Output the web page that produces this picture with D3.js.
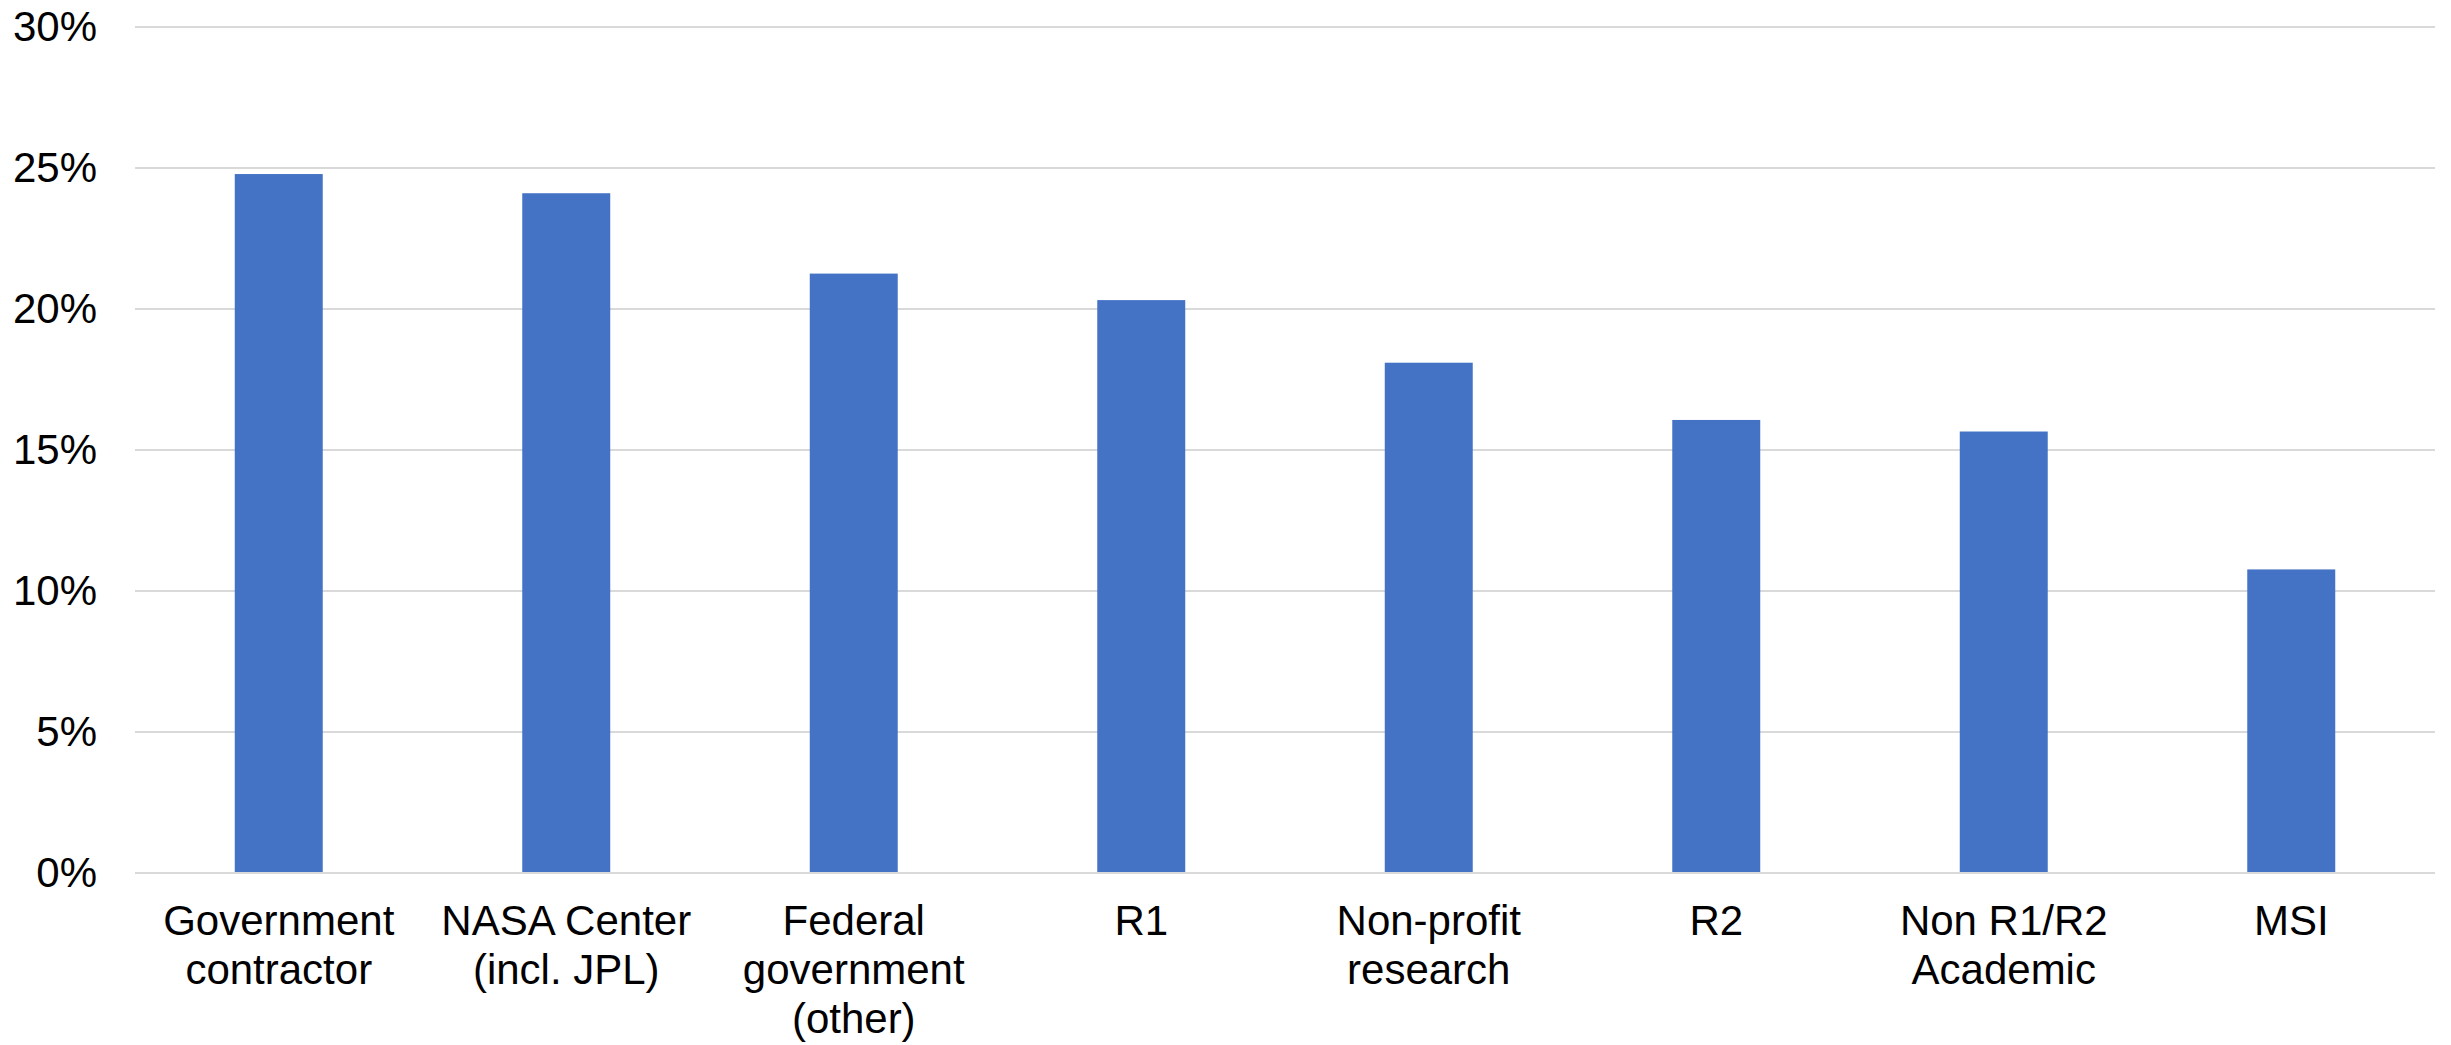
<!DOCTYPE html>
<meta charset="utf-8">
<style>
body { margin: 0; background: #fff; }
svg { font-family: "Liberation Sans", Arial, sans-serif; }
.grid line { stroke: #d9d9d9; stroke-width: 2; shape-rendering: crispEdges; }
.grid .domain { display: none; }
</style>
<body>
<script src="https://d3js.org/d3.v7.min.js"></script>
<script>
// categories as shown under each bar (line breaks kept)
var categories = [
  ["Government", "contractor"],
  ["NASA Center", "(incl. JPL)"],
  ["Federal", "government", "(other)"],
  ["R1"],
  ["Non-profit", "research"],
  ["R2"],
  ["Non R1/R2", "Academic"],
  ["MSI"]
];
var values = [24.75, 24.07, 21.22, 20.28, 18.06, 16.03, 15.62, 10.73];
var yTicks = [0, 5, 10, 15, 20, 25, 30];

var W = 2451, H = 1045;
var margin = {top: 26, right: 16, bottom: 173, left: 135};
var width = W - margin.left - margin.right,
    height = H - margin.top - margin.bottom;

var svg = d3.select("body").append("svg")
  .attr("width", W)
  .attr("height", H);

var g = svg.append("g")
  .attr("transform", "translate(" + margin.left + "," + margin.top + ")");

var x = d3.scaleBand()
  .domain(d3.range(values.length))
  .range([0, width])
  .paddingInner(0.694)
  .paddingOuter(0.347);

var y = d3.scaleLinear()
  .domain([0, 30])
  .range([height, 0]);

// gridlines
g.append("g")
  .attr("class", "grid")
  .call(d3.axisLeft(y).tickValues(yTicks).tickSize(-width).tickFormat(""));

// y labels
g.selectAll(".ylab")
  .data(yTicks)
  .enter().append("text")
    .attr("class", "ylab")
    .attr("x", -38)
    .attr("y", function(d) { return y(d); })
    .attr("dy", "0.35em")
    .attr("text-anchor", "end")
    .style("font-size", "42px")
    .style("fill", "#000")
    .text(function(d) { return d + "%"; });

// bars
g.selectAll(".bar")
  .data(values)
  .enter().append("rect")
    .attr("class", "bar")
    .attr("x", function(d, i) { return x(i); })
    .attr("y", function(d) { return y(d); })
    .attr("width", x.bandwidth())
    .attr("height", function(d) { return height - y(d); })
    .style("fill", "#4472c4");

// category labels
var lab = g.selectAll(".xlab")
  .data(categories)
  .enter().append("text")
    .attr("class", "xlab")
    .attr("text-anchor", "middle")
    .attr("transform", function(d, i) {
      return "translate(" + (x(i) + x.bandwidth() / 2) + "," + (height + 63) + ")";
    })
    .style("font-size", "42px")
    .style("fill", "#000");

lab.selectAll("tspan")
  .data(function(d) { return d; })
  .enter().append("tspan")
    .attr("x", 0)
    .attr("y", function(d, i) { return i * 49; })
    .text(function(d) { return d; });
</script>
</body>
